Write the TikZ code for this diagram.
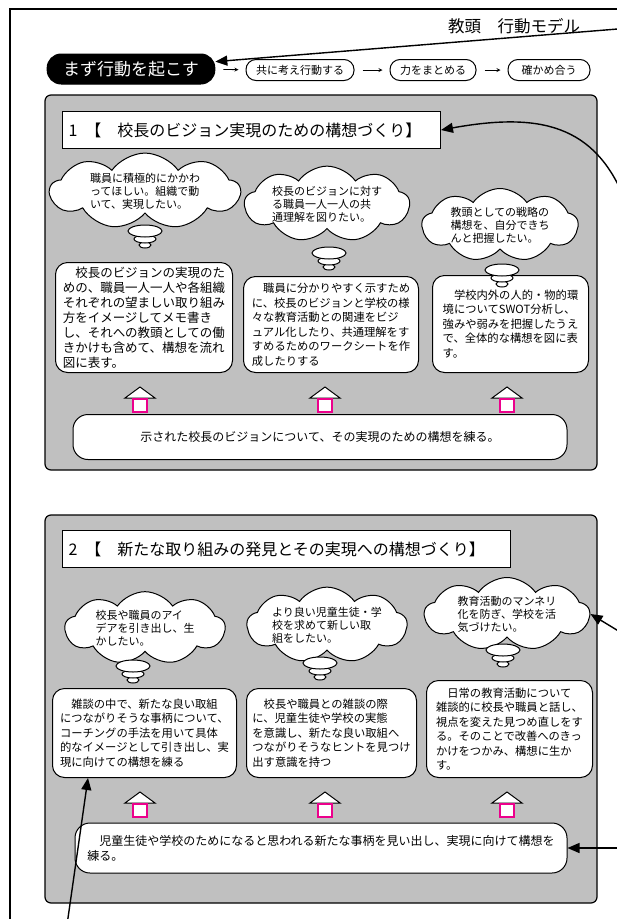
\documentclass[tikz,border=0pt]{standalone}
\usepackage{fontspec}
\setmainfont{Noto Sans CJK JP}
\usetikzlibrary{shapes, shapes.symbols, arrows.meta}
\definecolor{panel-gray}{HTML}{C0C0C0}
\tikzset{
	every node/.style={line width=1pt,fill=white,draw=black,align=left},
	panel/.style={line width=1.2pt,draw=black,fill=panel-gray,rounded corners=6pt},
	plain-text/.style={draw=none,fill=none},
	start-box/.style={fill=black,text=white,rounded corners=14pt,inner xsep=16pt,minimum height=30pt,font=\fontsize{17}{20}\selectfont},
	flow-box/.style={rounded corners=10pt,inner xsep=8pt,minimum height=21pt,font=\fontsize{11}{13}\selectfont},
	head-box/.style={shape=rectangle,anchor=west,inner xsep=6pt,minimum height=37pt,font=\fontsize{16}{19}\selectfont},
	wish-cloud/.style={shape=cloud,cloud puffs=9,cloud puff arc=110,cloud ignores aspect,inner sep=0pt,font=\fontsize{11}{13}\selectfont},
	text-box/.style={rounded corners=12pt,anchor=north west,inner xsep=5pt,font=\fontsize{11.3}{14.5}\selectfont},
	goal-box/.style={rounded corners=15pt,inner xsep=6pt,font=\fontsize{12}{15}\selectfont},
	bubble/.style={line width=1pt,draw=black,fill=white},
	up-shaft/.style={line width=1.5pt,draw=magenta,fill=white},
}
\tikzstyle{in-arrow} = [line width=1.4pt,-{Triangle[length=12pt,width=10pt]}]
\tikzstyle{small-arrow} = [line width=0.8pt,->,>=stealth,shorten <=8pt,shorten >=7pt]

\begin{document}
\begin{tikzpicture}[x=1pt,y=-1pt]
	\useasboundingbox (0,0) rectangle (617,919);
	\clip (0,0) rectangle (617,919);
	\fill[white] (0,0) rectangle (617,919);
	\draw[line width=1.2pt] (10,930) -- (10,9) -- (630,9);

	% top row
	\node[plain-text,font=\fontsize{16.5}{19}\selectfont] (title) at (514,26) {教頭　行動モデル};
	\node[start-box] (start) at (131,69) {まず行動を起こす};
	\node[flow-box,minimum width=108pt] (think) at (300,70) {共に考え行動する};
	\node[flow-box,minimum width=86pt] (unite) at (433,70) {力をまとめる};
	\node[flow-box,minimum width=82pt] (check) at (549,70) {確かめ合う};
	\draw[small-arrow] (start) -- (think);
	\draw[small-arrow] (think) -- (unite);
	\draw[small-arrow] (unite) -- (check);

	% panel 1
	\draw[panel] (45,95) rectangle (597,470);
	\node[head-box,text width=366pt] (h1) at (62,130) {1\enspace【　校長のビジョン実現のための構想づくり】};
	\node[wish-cloud,minimum width=190pt,minimum height=62pt] (c1) at (145,191) {職員に積極的にかかわ\\ってほしい。組織で動\\いて、実現したい。};
	\node[wish-cloud,minimum width=165pt,minimum height=58pt] (c2) at (327,204) {校長のビジョンに対す\\る職員一人一人の共\\通理解を図りたい。};
	\node[wish-cloud,minimum width=156pt,minimum height=68pt] (c3) at (500,225) {教頭としての戦略の\\構想を、自分できち\\んと把握したい。};
	\node[text-box,font=\fontsize{12.5}{15}\selectfont,minimum width=177pt,minimum height=110pt] (p1) at (55,262) {　校長のビジョンの実現のた\\めの、職員一人一人や各組織\\それぞれの望ましい取り組み\\方をイメージしてメモ書き\\し、それへの教頭としての働\\きかけも含めて、構想を流れ\\図に表す。};
	\node[text-box,minimum width=175pt,minimum height=96pt] (p2) at (243,276) {　職員に分かりやすく示すため\\に、校長のビジョンと学校の様\\々な教育活動との関連をビジ\\ュアル化したり、共通理解をす\\すめるためのワークシートを作\\成したりする};
	\node[text-box,minimum width=156pt,minimum height=97pt] (p3) at (432,275) {　学校内外の人的・物的環\\境についてSWOT分析し、\\強みや弱みを把握したうえ\\で、全体的な構想を図に表\\す。};
	\node[goal-box,minimum width=494pt,minimum height=45pt] (g1) at (320,437) {示された校長のビジョンについて、その実現のための構想を練る。};

	% panel 2
	\draw[panel] (45,515) rectangle (597,903);
	\node[head-box,text width=436pt] (h2) at (62,549) {2\enspace【　新たな取り組みの発見とその実現への構想づくり】};
	\node[wish-cloud,minimum width=160pt,minimum height=64pt] (c4) at (145,628) {校長や職員のアイ\\デアを引き出し、生\\かしたい。};
	\node[wish-cloud,minimum width=160pt,minimum height=62pt] (c5) at (327,625) {より良い児童生徒・学\\校を求めて新しい取\\組をしたい。};
	\node[wish-cloud,minimum width=165pt,minimum height=62pt] (c6) at (507,614) {教育活動のマンネリ\\化を防ぎ、学校を活\\気づけたい。};
	\node[text-box,minimum width=184pt,minimum height=89pt] (q1) at (52,688) {　雑談の中で、新たな良い取組\\につながりそうな事柄について、\\コーチングの手法を用いて具体\\的なイメージとして引き出し、実\\現に向けての構想を練る};
	\node[text-box,minimum width=170pt,minimum height=89pt] (q2) at (246,688) {　校長や職員との雑談の際\\に、児童生徒や学校の実態\\を意識し、新たな良い取組へ\\つながりそうなヒントを見つけ\\出す意識を持つ};
	\node[text-box,minimum width=166pt,minimum height=97pt] (q3) at (426,680) {　日常の教育活動について\\雑談的に校長や職員と話し、\\視点を変えた見つめ直しをす\\る。そのことで改善へのきっ\\かけをつかみ、構想に生か\\す。};
	\node[goal-box,minimum width=492pt,minimum height=50pt] (g2) at (321,848) {　児童生徒や学校のためになると思われる新たな事柄を見い出し、実現に向けて構想を\\練る。};

	% thought bubbles
	\foreach \x/\y in {145/231, 329/253, 502/270, 133/666, 320/663, 503/650} {
		\draw[bubble] (\x,\y+14) ellipse [x radius=6pt, y radius=3pt];
		\draw[bubble] (\x,\y+8) ellipse [x radius=11pt, y radius=4pt];
		\draw[bubble] (\x,\y) ellipse [x radius=17pt, y radius=6pt];
	}

	% up arrows
	\foreach \y in {387, 792} {
		\foreach \x in {140, 325, 507} {
			\draw[bubble] (\x-15,\y+11) -- (\x,\y) -- (\x+15,\y+11) -- cycle;
			\draw[up-shaft] (\x-7,\y+12) rectangle (\x+7,\y+25);
		}
	}

	% arrows coming in from outside
	\coordinate (in-top) at (630,28);
	\coordinate (in-curve) at (625,200);
	\coordinate (in-cloud) at (630,638);
	\coordinate (in-goal) at (630,848);
	\coordinate (in-bottom) at (66,932);
	\draw[in-arrow] (in-top) -- (start.5);
	\draw[in-arrow] (in-curve) .. controls (595,125) and (540,112) .. (h1.east);
	\draw[in-arrow] (in-cloud) -- (c6.east);
	\draw[in-arrow] (in-goal) -- (g2.east);
	\draw[in-arrow] (in-bottom) -- ([xshift=36pt]q1.south west);
\end{tikzpicture}
\end{document}
